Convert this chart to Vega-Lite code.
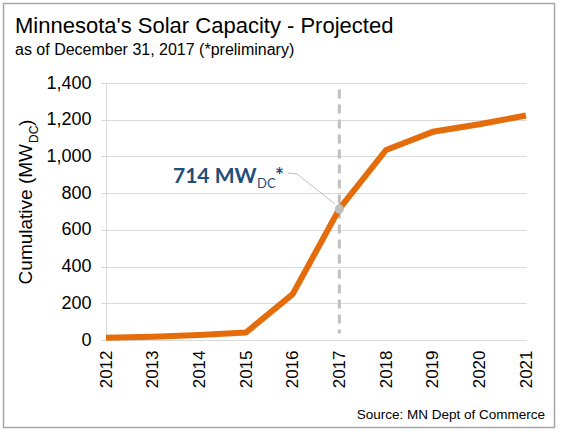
{
  "$schema": "https://vega.github.io/schema/vega-lite/v6.json",
  "width": 420,
  "height": 257,
  "autosize": {"type": "none"},
  "padding": {"left": 106, "top": 83, "right": 46, "bottom": 96},
  "background": "white",
  "config": {
    "view": {"stroke": null},
    "font": "Arial",
    "text": {"font": "Arial", "color": "black", "fontWeight": "normal"},
    "axis": {"labelFont": "Arial", "labelColor": "black", "title": null},
    "axisX": {"labelAngle": -90, "labelAlign": "right", "labelBaseline": "middle", "labelFontSize": 17, "labelPadding": 10, "ticks": false, "grid": false, "domainColor": "#d9d9d9", "domainWidth": 1},
    "axisY": {"labelFontSize": 18, "labelPadding": 10, "tickSize": 5, "tickColor": "#d9d9d9", "domainColor": "#d9d9d9", "grid": true, "gridColor": "#d9d9d9", "gridWidth": 1}
  },
  "data": {
    "values": [
      {"year": 2012, "mw": 12},
      {"year": 2013, "mw": 18},
      {"year": 2014, "mw": 27},
      {"year": 2015, "mw": 41},
      {"year": 2016, "mw": 250},
      {"year": 2017, "mw": 714},
      {"year": 2018, "mw": 1035},
      {"year": 2019, "mw": 1134},
      {"year": 2020, "mw": 1175},
      {"year": 2021, "mw": 1223}
    ]
  },
  "layer": [
    {
      "data": {"values": [{}]},
      "mark": {"type": "rect", "fill": null, "stroke": "#a6a6a6", "strokeWidth": 1.5},
      "encoding": {
        "x": {"datum": 2009.804, "type": "quantitative", "scale": {"domain": [2012, 2021], "nice": false, "zero": false}, "axis": {"values": [2012, 2013, 2014, 2015, 2016, 2017, 2018, 2019, 2020, 2021], "format": "d", "title": null}},
        "x2": {"datum": 2021.611},
        "y": {"datum": 1833, "type": "quantitative", "scale": {"domain": [0, 1400], "nice": false}, "axis": {"values": [0, 200, 400, 600, 800, 1000, 1200, 1400], "format": ",.0f", "title": null}},
        "y2": {"datum": -476.7}
      }
    },
    {
      "data": {"values": [{}]},
      "mark": {"type": "rule", "color": "#bfbfbf", "strokeWidth": 3, "strokeDash": [9, 6]},
      "encoding": {
        "x": {"datum": 2017, "type": "quantitative", "scale": {"domain": [2012, 2021], "nice": false, "zero": false}, "axis": {"values": [2012, 2013, 2014, 2015, 2016, 2017, 2018, 2019, 2020, 2021], "format": "d", "title": null}},
        "y": {"datum": 1365, "type": "quantitative", "scale": {"domain": [0, 1400], "nice": false}, "axis": {"values": [0, 200, 400, 600, 800, 1000, 1200, 1400], "format": ",.0f", "title": null}},
        "y2": {"datum": 35}
      }
    },
    {
      "mark": {"type": "line", "color": "#E46C0A", "strokeWidth": 6, "strokeJoin": "round", "strokeCap": "butt"},
      "encoding": {
        "x": {"field": "year", "type": "quantitative", "scale": {"domain": [2012, 2021], "nice": false, "zero": false}, "axis": {"values": [2012, 2013, 2014, 2015, 2016, 2017, 2018, 2019, 2020, 2021], "format": "d", "title": null}},
        "y": {"field": "mw", "type": "quantitative", "scale": {"domain": [0, 1400], "nice": false}, "axis": {"values": [0, 200, 400, 600, 800, 1000, 1200, 1400], "format": ",.0f", "title": null}}
      }
    },
    {
      "data": {
        "values": [
          {"year": 2015.9, "mw": 909.7},
          {"year": 2016.093, "mw": 904.3},
          {"year": 2016.907, "mw": 740.9}
        ]
      },
      "mark": {"type": "line", "color": "#bfbfbf", "strokeWidth": 1},
      "encoding": {
        "x": {"field": "year", "type": "quantitative", "scale": {"domain": [2012, 2021], "nice": false, "zero": false}, "axis": {"values": [2012, 2013, 2014, 2015, 2016, 2017, 2018, 2019, 2020, 2021], "format": "d", "title": null}},
        "y": {"field": "mw", "type": "quantitative", "scale": {"domain": [0, 1400], "nice": false}, "axis": {"values": [0, 200, 400, 600, 800, 1000, 1200, 1400], "format": ",.0f", "title": null}}
      }
    },
    {
      "transform": [{"filter": "datum.year == 2017"}],
      "mark": {"type": "circle", "color": "#bfbfbf", "opacity": 1, "size": 85},
      "encoding": {
        "x": {"field": "year", "type": "quantitative", "scale": {"domain": [2012, 2021], "nice": false, "zero": false}, "axis": {"values": [2012, 2013, 2014, 2015, 2016, 2017, 2018, 2019, 2020, 2021], "format": "d", "title": null}},
        "y": {"field": "mw", "type": "quantitative", "scale": {"domain": [0, 1400], "nice": false}, "axis": {"values": [0, 200, 400, 600, 800, 1000, 1200, 1400], "format": ",.0f", "title": null}}
      }
    },
    {
      "data": {"values": [{}]},
      "mark": {"type": "text", "text": "Minnesota's Solar Capacity - Projected", "fontSize": 22, "align": "left", "baseline": "alphabetic"},
      "encoding": {
        "x": {"datum": 2010.05, "type": "quantitative", "scale": {"domain": [2012, 2021], "nice": false, "zero": false}, "axis": {"values": [2012, 2013, 2014, 2015, 2016, 2017, 2018, 2019, 2020, 2021], "format": "d", "title": null}},
        "y": {"datum": 1672.4, "type": "quantitative", "scale": {"domain": [0, 1400], "nice": false}, "axis": {"values": [0, 200, 400, 600, 800, 1000, 1200, 1400], "format": ",.0f", "title": null}}
      }
    },
    {
      "data": {"values": [{}]},
      "mark": {"type": "text", "text": "as of December 31, 2017 (*preliminary)", "fontSize": 16, "align": "left", "baseline": "alphabetic"},
      "encoding": {
        "x": {"datum": 2010.05, "type": "quantitative", "scale": {"domain": [2012, 2021], "nice": false, "zero": false}, "axis": {"values": [2012, 2013, 2014, 2015, 2016, 2017, 2018, 2019, 2020, 2021], "format": "d", "title": null}},
        "y": {"datum": 1552.5, "type": "quantitative", "scale": {"domain": [0, 1400], "nice": false}, "axis": {"values": [0, 200, 400, 600, 800, 1000, 1200, 1400], "format": ",.0f", "title": null}}
      }
    },
    {
      "data": {"values": [{}]},
      "mark": {"type": "text", "text": "714 MW", "font": "Lato", "fontWeight": "bold", "fontSize": 21, "color": "#1F4E79", "align": "left", "baseline": "alphabetic"},
      "encoding": {
        "x": {"datum": 2013.436, "type": "quantitative", "scale": {"domain": [2012, 2021], "nice": false, "zero": false}, "axis": {"values": [2012, 2013, 2014, 2015, 2016, 2017, 2018, 2019, 2020, 2021], "format": "d", "title": null}},
        "y": {"datum": 855.2, "type": "quantitative", "scale": {"domain": [0, 1400], "nice": false}, "axis": {"values": [0, 200, 400, 600, 800, 1000, 1200, 1400], "format": ",.0f", "title": null}}
      }
    },
    {
      "data": {"values": [{}]},
      "mark": {"type": "text", "text": "DC", "font": "Lato", "fontSize": 13, "color": "#1F4E79", "align": "left", "baseline": "alphabetic", "dx": 84, "dy": 5},
      "encoding": {
        "x": {"datum": 2013.436, "type": "quantitative", "scale": {"domain": [2012, 2021], "nice": false, "zero": false}, "axis": {"values": [2012, 2013, 2014, 2015, 2016, 2017, 2018, 2019, 2020, 2021], "format": "d", "title": null}},
        "y": {"datum": 855.2, "type": "quantitative", "scale": {"domain": [0, 1400], "nice": false}, "axis": {"values": [0, 200, 400, 600, 800, 1000, 1200, 1400], "format": ",.0f", "title": null}}
      }
    },
    {
      "data": {"values": [{}]},
      "mark": {"type": "text", "text": "*", "font": "Lato", "fontWeight": "bold", "fontSize": 21, "color": "#1F4E79", "align": "left", "baseline": "alphabetic", "dx": 102, "dy": 0},
      "encoding": {
        "x": {"datum": 2013.436, "type": "quantitative", "scale": {"domain": [2012, 2021], "nice": false, "zero": false}, "axis": {"values": [2012, 2013, 2014, 2015, 2016, 2017, 2018, 2019, 2020, 2021], "format": "d", "title": null}},
        "y": {"datum": 855.2, "type": "quantitative", "scale": {"domain": [0, 1400], "nice": false}, "axis": {"values": [0, 200, 400, 600, 800, 1000, 1200, 1400], "format": ",.0f", "title": null}}
      }
    },
    {
      "data": {"values": [{}]},
      "mark": {"type": "text", "text": "Cumulative (MW", "fontSize": 19, "angle": 270, "align": "right", "baseline": "alphabetic"},
      "encoding": {
        "x": {"datum": 2010.414, "type": "quantitative", "scale": {"domain": [2012, 2021], "nice": false, "zero": false}, "axis": {"values": [2012, 2013, 2014, 2015, 2016, 2017, 2018, 2019, 2020, 2021], "format": "d", "title": null}},
        "y": {"datum": 1067.7, "type": "quantitative", "scale": {"domain": [0, 1400], "nice": false}, "axis": {"values": [0, 200, 400, 600, 800, 1000, 1200, 1400], "format": ",.0f", "title": null}}
      }
    },
    {
      "data": {"values": [{}]},
      "mark": {"type": "text", "text": "DC", "fontSize": 12, "angle": 270, "align": "left", "baseline": "alphabetic", "dx": 1, "dy": 6},
      "encoding": {
        "x": {"datum": 2010.414, "type": "quantitative", "scale": {"domain": [2012, 2021], "nice": false, "zero": false}, "axis": {"values": [2012, 2013, 2014, 2015, 2016, 2017, 2018, 2019, 2020, 2021], "format": "d", "title": null}},
        "y": {"datum": 1067.7, "type": "quantitative", "scale": {"domain": [0, 1400], "nice": false}, "axis": {"values": [0, 200, 400, 600, 800, 1000, 1200, 1400], "format": ",.0f", "title": null}}
      }
    },
    {
      "data": {"values": [{}]},
      "mark": {"type": "text", "text": ")", "fontSize": 19, "angle": 270, "align": "left", "baseline": "alphabetic", "dx": 18, "dy": 0},
      "encoding": {
        "x": {"datum": 2010.414, "type": "quantitative", "scale": {"domain": [2012, 2021], "nice": false, "zero": false}, "axis": {"values": [2012, 2013, 2014, 2015, 2016, 2017, 2018, 2019, 2020, 2021], "format": "d", "title": null}},
        "y": {"datum": 1067.7, "type": "quantitative", "scale": {"domain": [0, 1400], "nice": false}, "axis": {"values": [0, 200, 400, 600, 800, 1000, 1200, 1400], "format": ",.0f", "title": null}}
      }
    },
    {
      "data": {"values": [{}]},
      "mark": {"type": "text", "text": "Source:  MN Dept of Commerce", "fontSize": 13.5, "align": "right", "baseline": "alphabetic"},
      "encoding": {
        "x": {"datum": 2021.407, "type": "quantitative", "scale": {"domain": [2012, 2021], "nice": false, "zero": false}, "axis": {"values": [2012, 2013, 2014, 2015, 2016, 2017, 2018, 2019, 2020, 2021], "format": "d", "title": null}},
        "y": {"datum": -430.4, "type": "quantitative", "scale": {"domain": [0, 1400], "nice": false}, "axis": {"values": [0, 200, 400, 600, 800, 1000, 1200, 1400], "format": ",.0f", "title": null}}
      }
    }
  ]
}
